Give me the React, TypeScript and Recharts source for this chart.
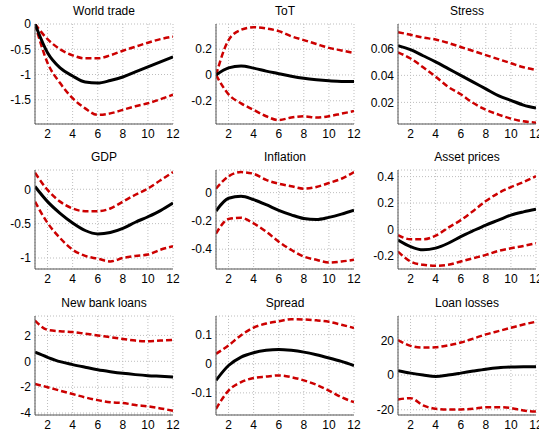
import { CartesianGrid, Line, LineChart, XAxis, YAxis } from 'recharts'

// horizon (quarters)
const steps = [1, 2, 3, 4, 5, 6, 7, 8, 9, 10, 11, 12]
const xTicks = [2, 4, 6, 8, 10, 12]

// World trade
const worldTradeMid = [0, -0.57, -0.87, -1.03, -1.15, -1.17, -1.12, -1.05, -0.95, -0.85, -0.75, -0.65]
const worldTradeUpper = [0, -0.3, -0.5, -0.62, -0.68, -0.68, -0.62, -0.53, -0.45, -0.37, -0.3, -0.25]
const worldTradeLower = [0, -0.77, -1.17, -1.47, -1.67, -1.8, -1.77, -1.7, -1.63, -1.57, -1.49, -1.4]
const worldTradeTicks = [-1.5, -1, -0.5, 0]

// ToT
const totMid = [0, 0.055, 0.07, 0.053, 0.03, 0.01, -0.01, -0.026, -0.037, -0.045, -0.05, -0.05]
const totUpper = [0, 0.27, 0.35, 0.37, 0.36, 0.34, 0.3, 0.27, 0.24, 0.21, 0.19, 0.17]
const totLower = [0, -0.15, -0.22, -0.27, -0.32, -0.35, -0.33, -0.32, -0.33, -0.32, -0.3, -0.28]
const totTicks = [-0.2, 0, 0.2]

// Stress
const stressMid = [0.062, 0.059, 0.0545, 0.05, 0.045, 0.04, 0.035, 0.03, 0.025, 0.0215, 0.018, 0.0158]
const stressUpper = [0.072, 0.07, 0.068, 0.0665, 0.064, 0.061, 0.058, 0.055, 0.052, 0.049, 0.046, 0.044]
const stressLower = [0.057, 0.0525, 0.046, 0.039, 0.0315, 0.026, 0.0195, 0.0145, 0.011, 0.008, 0.006, 0.005]
const stressTicks = [0.02, 0.04, 0.06]

// GDP
const gdpMid = [0.04, -0.18, -0.35, -0.49, -0.6, -0.65, -0.63, -0.57, -0.48, -0.4, -0.31, -0.2]
const gdpUpper = [0.24, -0.01, -0.18, -0.28, -0.32, -0.32, -0.28, -0.18, -0.08, 0.01, 0.13, 0.25]
const gdpLower = [-0.18, -0.49, -0.71, -0.88, -0.97, -1.01, -1.05, -1.0, -0.97, -0.95, -0.88, -0.83]
const gdpTicks = [-1, -0.5, 0]

// Inflation
const inflationMid = [-0.13, -0.04, -0.026, -0.05, -0.085, -0.125, -0.157, -0.183, -0.19, -0.175, -0.152, -0.124]
const inflationUpper = [0.028, 0.115, 0.145, 0.133, 0.09, 0.063, 0.045, 0.028, 0.04, 0.068, 0.098, 0.145]
const inflationLower = [-0.29, -0.187, -0.178, -0.218, -0.276, -0.347, -0.405, -0.452, -0.475, -0.494, -0.487, -0.475]
const inflationTicks = [-0.4, -0.2, 0]

// Asset prices
const assetMid = [-0.08, -0.13, -0.155, -0.142, -0.105, -0.055, -0.01, 0.033, 0.07, 0.108, 0.133, 0.153]
const assetUpper = [-0.043, -0.075, -0.075, -0.048, 0.013, 0.07, 0.14, 0.215, 0.275, 0.32, 0.358, 0.403]
const assetLower = [-0.168, -0.243, -0.268, -0.275, -0.268, -0.243, -0.218, -0.193, -0.163, -0.143, -0.125, -0.105]
const assetTicks = [-0.2, 0, 0.2, 0.4]

// New bank loans
const loansMid = [0.7, 0.31, -0.03, -0.26, -0.46, -0.65, -0.8, -0.93, -1.03, -1.11, -1.16, -1.21]
const loansUpper = [3.15, 2.43, 2.32, 2.26, 2.13, 2.0, 1.86, 1.73, 1.6, 1.55, 1.6, 1.65]
const loansLower = [-1.75, -2.0, -2.27, -2.53, -2.79, -3.0, -3.17, -3.22, -3.38, -3.48, -3.64, -3.82]
const loansTicks = [-4, -2, 0, 2]

// Spread
const spreadMid = [-0.057, -0.006, 0.023, 0.038, 0.046, 0.049, 0.046, 0.04, 0.031, 0.02, 0.008, -0.006]
const spreadUpper = [0.034, 0.063, 0.098, 0.124, 0.138, 0.146, 0.153, 0.152, 0.149, 0.144, 0.134, 0.123]
const spreadLower = [-0.155, -0.092, -0.063, -0.049, -0.044, -0.04, -0.046, -0.057, -0.072, -0.092, -0.115, -0.132]
const spreadTicks = [-0.1, 0, 0.1]

// Loan losses
const lossesMid = [2.5, 1.1, 0, -0.8, 0, 1.1, 2.3, 3.4, 4.2, 4.6, 4.8, 4.8]
const lossesUpper = [20.2, 16.8, 15.8, 16, 17.1, 18.7, 21, 23.4, 25.3, 27.2, 29.1, 30.7]
const lossesLower = [-14.1, -13.3, -17.5, -19.4, -19.8, -19.8, -19.4, -18.5, -18.5, -19, -20.4, -21]
const lossesTicks = [-20, 0, 20]

const panels = [
  { title: 'World trade', mid: worldTradeMid, hi: worldTradeUpper, lo: worldTradeLower, ticks: worldTradeTicks, domain: [-1.98, 0] },
  { title: 'ToT', mid: totMid, hi: totUpper, lo: totLower, ticks: totTicks, domain: [-0.38, 0.395] },
  { title: 'Stress', mid: stressMid, hi: stressUpper, lo: stressLower, ticks: stressTicks, domain: [0.004, 0.078] },
  { title: 'GDP', mid: gdpMid, hi: gdpUpper, lo: gdpLower, ticks: gdpTicks, domain: [-1.16, 0.28] },
  { title: 'Inflation', mid: inflationMid, hi: inflationUpper, lo: inflationLower, ticks: inflationTicks, domain: [-0.54, 0.16] },
  { title: 'Asset prices', mid: assetMid, hi: assetUpper, lo: assetLower, ticks: assetTicks, domain: [-0.3, 0.45] },
  { title: 'New bank loans', mid: loansMid, hi: loansUpper, lo: loansLower, ticks: loansTicks, domain: [-4.15, 3.5] },
  { title: 'Spread', mid: spreadMid, hi: spreadUpper, lo: spreadLower, ticks: spreadTicks, domain: [-0.176, 0.164] },
  { title: 'Loan losses', mid: lossesMid, hi: lossesUpper, lo: lossesLower, ticks: lossesTicks, domain: [-23, 34] },
]

const colX = [35, 216, 398]
const rowY = [24, 170, 316]
const rowH = [100, 99, 99]
const plotW = 138
const axisW = 35
const padTop = 10
const font = '"Liberation Sans", Arial, sans-serif'

function Panel({ p, left, top, h }: { p: any; left: number; top: number; h: number }) {
  const data = steps.map((s, i) => ({ x: s, mid: p.mid[i], hi: p.hi[i], lo: p.lo[i] }))
  return (
    <>
      <div
        style={{
          position: 'absolute',
          left,
          top: top - 20,
          width: plotW,
          textAlign: 'center',
          fontSize: 12,
          lineHeight: '14px',
          fontFamily: font,
          color: '#000',
        }}
      >
        {p.title}
      </div>
      <div style={{ position: 'absolute', left: left - axisW, top: top - padTop }}>
        <LineChart width={axisW + plotW + 10} height={h + padTop + 22} data={data} margin={{ top: padTop, right: 10, bottom: 0, left: 0 }}>
          <CartesianGrid stroke='#bdbdbd' strokeDasharray='1 2' />
          <XAxis
            dataKey='x'
            type='number'
            domain={[1, 12]}
            ticks={xTicks}
            interval={0}
            height={22}
            tickSize={0}
            tickMargin={5}
            axisLine={{ stroke: '#555' }}
            tick={{ fill: '#000', fontSize: 12, fontFamily: font }}
            allowDataOverflow
          />
          <YAxis
            type='number'
            domain={p.domain}
            ticks={p.ticks}
            interval={0}
            width={axisW}
            tickSize={0}
            tickMargin={4}
            axisLine={{ stroke: '#555' }}
            tick={{ fill: '#000', fontSize: 12, fontFamily: font }}
            allowDataOverflow
          />
          <Line type='monotone' dataKey='hi' stroke='#cc0000' strokeWidth={2.5} strokeDasharray='6 3' dot={false} isAnimationActive={false} />
          <Line type='monotone' dataKey='lo' stroke='#cc0000' strokeWidth={2.5} strokeDasharray='6 3' dot={false} isAnimationActive={false} />
          <Line type='monotone' dataKey='mid' stroke='#000' strokeWidth={3} dot={false} isAnimationActive={false} />
        </LineChart>
      </div>
    </>
  )
}

export default function App() {
  return (
    <div style={{ position: 'absolute', left: 0, top: 0, width: 539, height: 431, background: '#fff', overflow: 'hidden' }}>
      {panels.map((p, i) => (
        <Panel key={p.title} p={p} left={colX[i % 3]} top={rowY[Math.floor(i / 3)]} h={rowH[Math.floor(i / 3)]} />
      ))}
    </div>
  )
}
